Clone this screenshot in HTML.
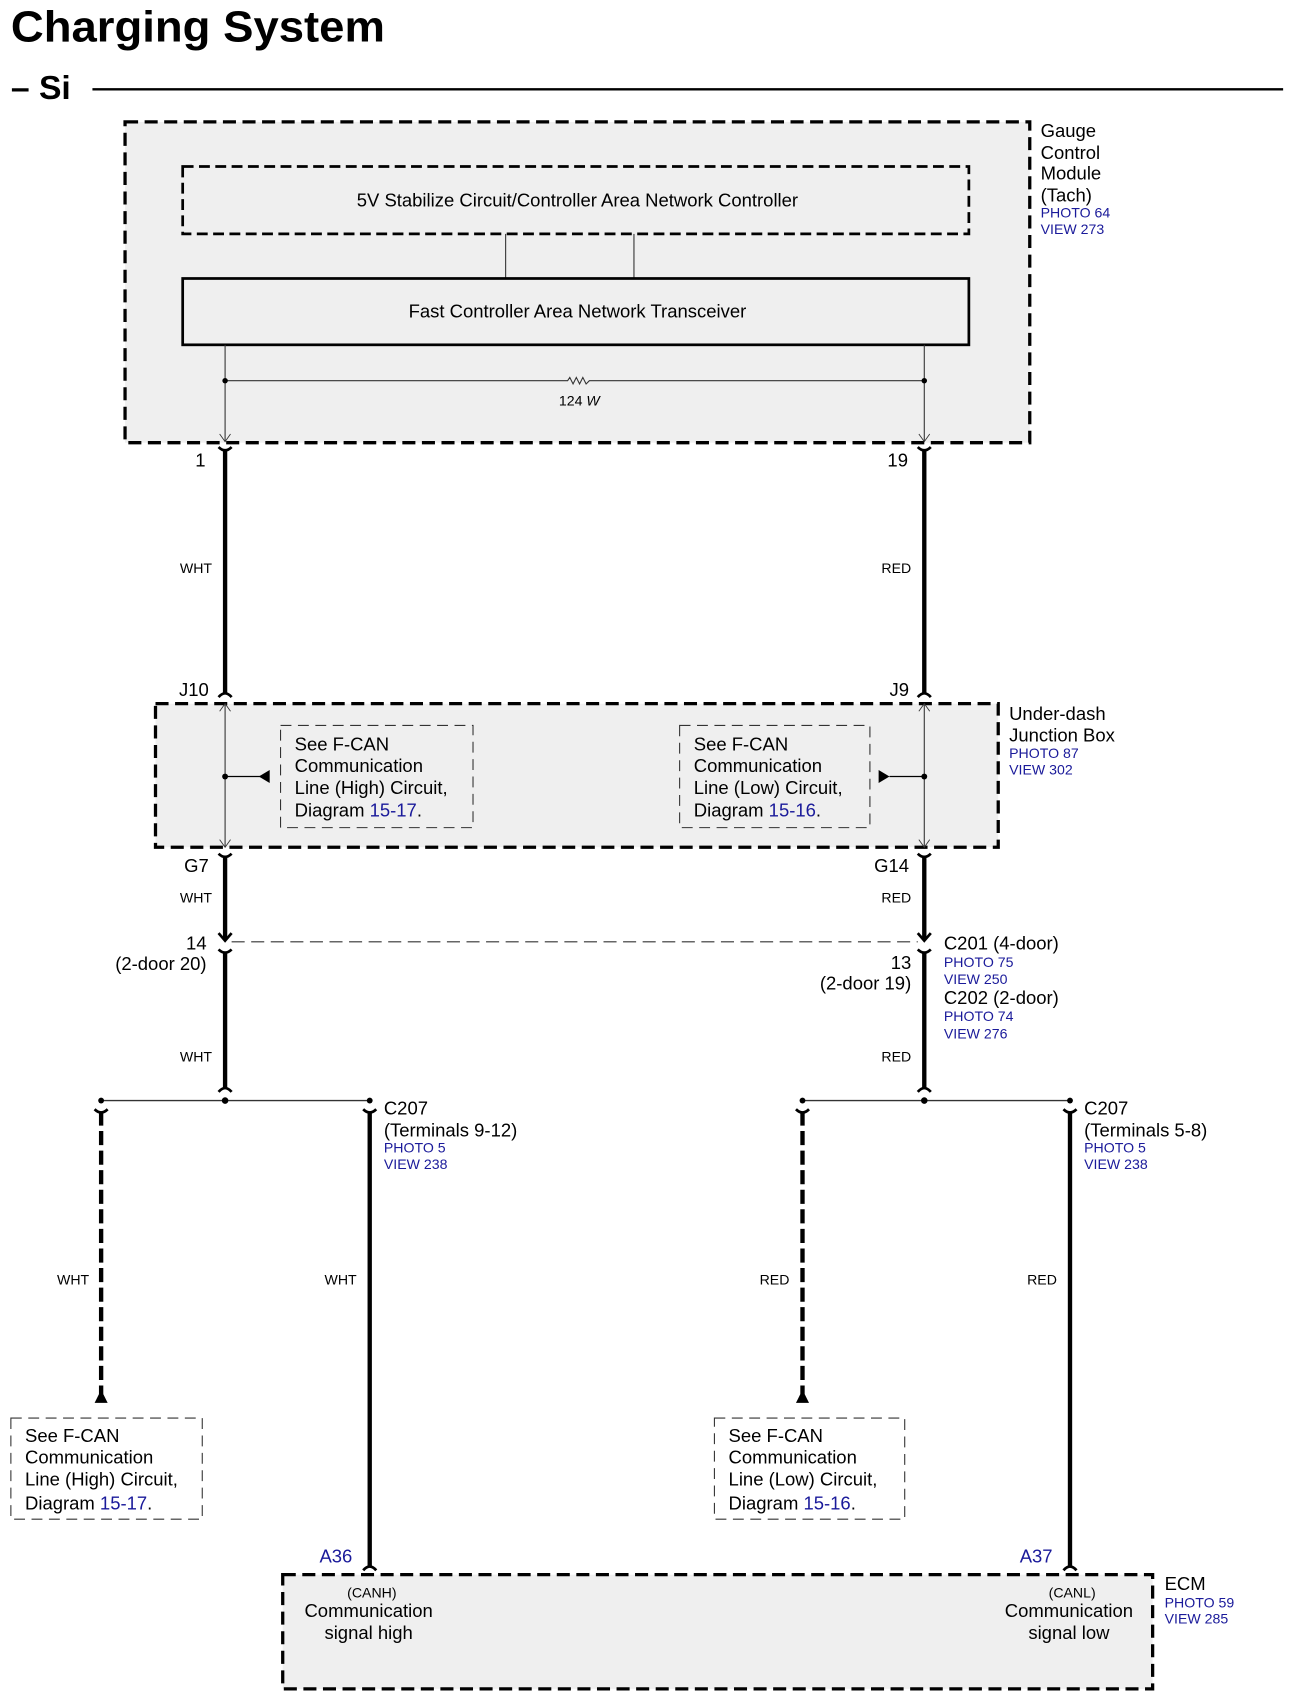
<!DOCTYPE html>
<html><head><meta charset="utf-8"><style>
html,body{margin:0;padding:0;background:#fff;}
svg{display:block;}
text{font-family:"Liberation Sans",Arial,sans-serif;fill:#000;}
.b{fill:#1a1a9a;}
.s{font-size:13px;}
.m{font-size:17px;}
</style></head><body>
<svg width="1294" height="1702" viewBox="0 0 1190 1565" xmlns="http://www.w3.org/2000/svg">
<text x="10" y="38" font-size="40" font-weight="bold" textLength="344" lengthAdjust="spacingAndGlyphs">Charging System</text>
<text x="10" y="91" font-size="31" font-weight="bold">– Si</text>
<line x1="85" y1="82" x2="1180" y2="82" stroke="#000" stroke-width="2.2"/>

<rect x="115" y="112" width="832" height="295" fill="#efefef" stroke="#000" stroke-width="3" stroke-dasharray="12 6"/>
<rect x="168" y="153" width="723" height="62" fill="none" stroke="#000" stroke-width="2.5" stroke-dasharray="10 5"/>
<text x="531" y="190" class="m" text-anchor="middle">5V Stabilize Circuit/Controller Area Network Controller</text>
<line x1="465" y1="215" x2="465" y2="256" stroke="#333" stroke-width="1"/>
<line x1="583" y1="215" x2="583" y2="256" stroke="#333" stroke-width="1"/>
<rect x="168" y="256" width="723" height="61" fill="#efefef" stroke="#000" stroke-width="2.5"/>
<text x="531" y="292" class="m" text-anchor="middle">Fast Controller Area Network Transceiver</text>
<line x1="207" y1="317" x2="207" y2="406" stroke="#333" stroke-width="1"/>
<line x1="850" y1="317" x2="850" y2="406" stroke="#333" stroke-width="1"/>
<path d="M202 399 L207 406 L212 399 M845 399 L850 406 L855 399" fill="none" stroke="#333" stroke-width="0.8"/>
<path d="M207 350 H522 l2 -3 l3 6 l3 -6 l3 6 l3 -6 l3 6 l3 -3 H850" fill="none" stroke="#333" stroke-width="1"/>
<circle cx="207" cy="350" r="2.5"/><circle cx="850" cy="350" r="2.5"/>
<text x="514" y="373" class="s">124 <tspan font-style="italic">W</tspan></text>
<text x="957" y="126" class="m">Gauge</text>
<text x="957" y="146" class="m">Control</text>
<text x="957" y="165" class="m">Module</text>
<text x="957" y="185" class="m">(Tach)</text>
<text x="957" y="200" class="s b">PHOTO 64</text>
<text x="957" y="215" class="s b">VIEW 273</text>

<g stroke="#000" fill="none" stroke-width="2.5">
<path d="M201 411 Q207 417 213 411 M844 411 Q850 417 856 411"/>
<path d="M201 641 Q207 634 213 641 M844 641 Q850 634 856 641"/>
<path d="M201 785 Q207 791 213 785 M844 785 Q850 791 856 785"/>
<path d="M201 858 L207 865 L213 858 M844 858 L850 865 L856 858"/>
<path d="M201 873 Q207 879 213 873 M844 873 Q850 879 856 873"/>
<path d="M201 1004 Q207 997 213 1004 M844 1004 Q850 997 856 1004"/>
<path d="M87 1020 Q93 1026 99 1020 M334 1020 Q340 1026 346 1020 M732 1020 Q738 1026 744 1020 M978 1020 Q984 1026 990 1020"/>
<path d="M334 1444 Q340 1437 346 1444 M978 1444 Q984 1437 990 1444"/>
</g>
<g stroke="#000" stroke-width="4">
<line x1="207" y1="414" x2="207" y2="638"/>
<line x1="850" y1="414" x2="850" y2="638"/>
<line x1="207" y1="788" x2="207" y2="864"/>
<line x1="850" y1="788" x2="850" y2="864"/>
<line x1="207" y1="876" x2="207" y2="1001"/>
<line x1="850" y1="876" x2="850" y2="1001"/>
<line x1="340" y1="1022" x2="340" y2="1441"/>
<line x1="984" y1="1022" x2="984" y2="1441"/>
<line x1="93" y1="1022" x2="93" y2="1282" stroke-dasharray="13 5"/>
<line x1="738" y1="1022" x2="738" y2="1282" stroke-dasharray="13 5"/>
</g>
<path d="M87 1290 L93 1278 L99 1290 Z M732 1290 L738 1278 L744 1290 Z"/>
<text x="189" y="429" class="m" text-anchor="end">1</text>
<text x="835" y="429" class="m" text-anchor="end">19</text>
<text x="195" y="527" class="s" text-anchor="end">WHT</text>
<text x="838" y="527" class="s" text-anchor="end">RED</text>
<text x="192" y="640" class="m" text-anchor="end">J10</text>
<text x="836" y="640" class="m" text-anchor="end">J9</text>

<rect x="143" y="647" width="775" height="132" fill="#efefef" stroke="#000" stroke-width="3" stroke-dasharray="12 6"/>
<line x1="207" y1="647" x2="207" y2="779" stroke="#333" stroke-width="1"/>
<line x1="850" y1="647" x2="850" y2="779" stroke="#333" stroke-width="1"/>
<path d="M202 654 L207 647 L212 654 M202 772 L207 779 L212 772 M845 654 L850 647 L855 654 M845 772 L850 779 L855 772" fill="none" stroke="#333" stroke-width="0.8"/>
<rect x="258" y="667" width="177" height="94" fill="none" stroke="#333" stroke-width="1" stroke-dasharray="10 6"/>
<rect x="625" y="667" width="175" height="94" fill="none" stroke="#333" stroke-width="1" stroke-dasharray="10 6"/>
<line x1="207" y1="714" x2="240" y2="714" stroke="#000" stroke-width="1.2"/>
<path d="M238 714 L248 708 L248 720 Z"/>
<line x1="818" y1="714" x2="850" y2="714" stroke="#000" stroke-width="1.2"/>
<path d="M818 714 L808 708 L808 720 Z"/>
<circle cx="207" cy="714" r="2.7"/><circle cx="850" cy="714" r="2.7"/>
<text x="271" y="690" class="m">See F-CAN</text>
<text x="271" y="710" class="m">Communication</text>
<text x="271" y="730" class="m">Line (High) Circuit,</text>
<text x="271" y="751" class="m">Diagram <tspan class="b">15-17</tspan>.</text>
<text x="638" y="690" class="m">See F-CAN</text>
<text x="638" y="710" class="m">Communication</text>
<text x="638" y="730" class="m">Line (Low) Circuit,</text>
<text x="638" y="751" class="m">Diagram <tspan class="b">15-16</tspan>.</text>
<text x="928" y="662" class="m">Under-dash</text>
<text x="928" y="682" class="m">Junction Box</text>
<text x="928" y="697" class="s b">PHOTO 87</text>
<text x="928" y="712" class="s b">VIEW 302</text>

<text x="192" y="802" class="m" text-anchor="end">G7</text>
<text x="836" y="802" class="m" text-anchor="end">G14</text>
<text x="195" y="830" class="s" text-anchor="end">WHT</text>
<text x="838" y="830" class="s" text-anchor="end">RED</text>
<line x1="213" y1="866" x2="844" y2="866" stroke="#333" stroke-width="1" stroke-dasharray="12 6"/>
<text x="190" y="873" class="m" text-anchor="end">14</text>
<text x="190" y="892" class="m" text-anchor="end">(2-door 20)</text>
<text x="838" y="891" class="m" text-anchor="end">13</text>
<text x="838" y="910" class="m" text-anchor="end">(2-door 19)</text>
<text x="868" y="873" class="m">C201 (4-door)</text>
<text x="868" y="889" class="s b">PHOTO 75</text>
<text x="868" y="905" class="s b">VIEW 250</text>
<text x="868" y="923" class="m">C202 (2-door)</text>
<text x="868" y="939" class="s b">PHOTO 74</text>
<text x="868" y="955" class="s b">VIEW 276</text>
<text x="195" y="976" class="s" text-anchor="end">WHT</text>
<text x="838" y="976" class="s" text-anchor="end">RED</text>

<line x1="93" y1="1012" x2="340" y2="1012" stroke="#333" stroke-width="1.2"/>
<line x1="738" y1="1012" x2="984" y2="1012" stroke="#333" stroke-width="1.2"/>
<circle cx="207" cy="1012" r="3"/><circle cx="850" cy="1012" r="3"/>
<circle cx="93" cy="1012" r="2.7"/><circle cx="340" cy="1012" r="2.7"/>
<circle cx="738" cy="1012" r="2.7"/><circle cx="984" cy="1012" r="2.7"/>
<text x="353" y="1025" class="m">C207</text>
<text x="353" y="1045" class="m">(Terminals 9-12)</text>
<text x="353" y="1060" class="s b">PHOTO 5</text>
<text x="353" y="1075" class="s b">VIEW 238</text>
<text x="997" y="1025" class="m">C207</text>
<text x="997" y="1045" class="m">(Terminals 5-8)</text>
<text x="997" y="1060" class="s b">PHOTO 5</text>
<text x="997" y="1075" class="s b">VIEW 238</text>
<text x="82" y="1181" class="s" text-anchor="end">WHT</text>
<text x="328" y="1181" class="s" text-anchor="end">WHT</text>
<text x="726" y="1181" class="s" text-anchor="end">RED</text>
<text x="972" y="1181" class="s" text-anchor="end">RED</text>

<rect x="10" y="1304" width="176" height="93" fill="none" stroke="#333" stroke-width="1" stroke-dasharray="10 6"/>
<rect x="657" y="1304" width="175" height="93" fill="none" stroke="#333" stroke-width="1" stroke-dasharray="10 6"/>
<text x="23" y="1326" class="m">See F-CAN</text>
<text x="23" y="1346" class="m">Communication</text>
<text x="23" y="1366" class="m">Line (High) Circuit,</text>
<text x="23" y="1388" class="m">Diagram <tspan class="b">15-17</tspan>.</text>
<text x="670" y="1326" class="m">See F-CAN</text>
<text x="670" y="1346" class="m">Communication</text>
<text x="670" y="1366" class="m">Line (Low) Circuit,</text>
<text x="670" y="1388" class="m">Diagram <tspan class="b">15-16</tspan>.</text>

<text x="324" y="1437" class="m b" text-anchor="end">A36</text>
<text x="968" y="1437" class="m b" text-anchor="end">A37</text>
<rect x="260" y="1448" width="800" height="105" fill="#efefef" stroke="#000" stroke-width="3" stroke-dasharray="12 6"/>
<text x="342" y="1469" class="s" text-anchor="middle">(CANH)</text>
<text x="339" y="1487" class="m" text-anchor="middle">Communication</text>
<text x="339" y="1507" class="m" text-anchor="middle">signal high</text>
<text x="986" y="1469" class="s" text-anchor="middle">(CANL)</text>
<text x="983" y="1487" class="m" text-anchor="middle">Communication</text>
<text x="983" y="1507" class="m" text-anchor="middle">signal low</text>
<text x="1071" y="1462" class="m">ECM</text>
<text x="1071" y="1478" class="s b">PHOTO 59</text>
<text x="1071" y="1493" class="s b">VIEW 285</text>
</svg>
</body></html>
